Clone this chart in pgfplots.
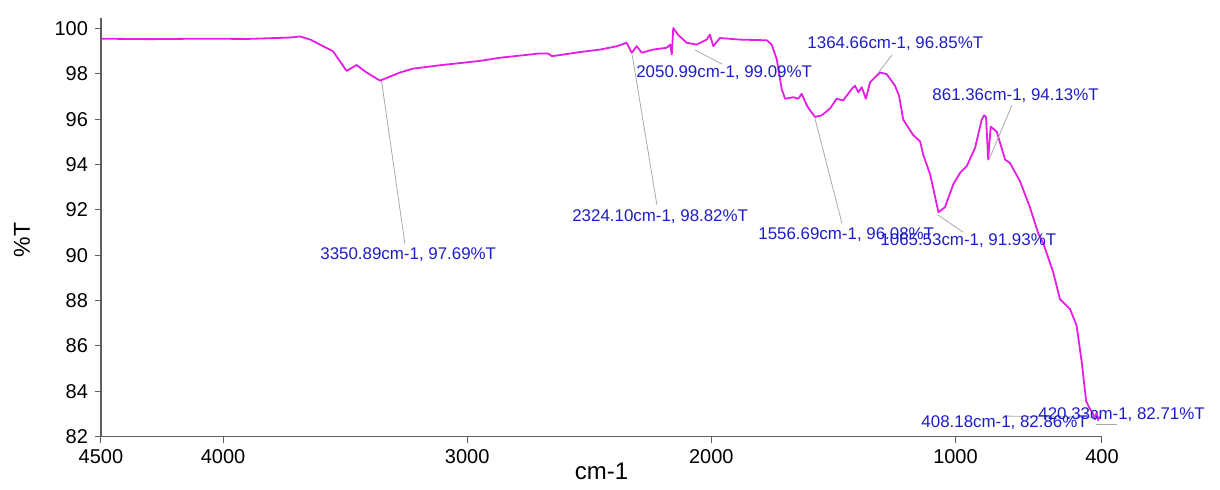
\documentclass[border=0pt]{standalone}
\usepackage{fontspec}
\setmainfont{Liberation Sans}
\usepackage{pgfplots}
\pgfplotsset{compat=1.18}
\definecolor{spec}{RGB}{228,30,228}
\definecolor{annot}{RGB}{30,30,200}
\definecolor{axgray}{RGB}{95,95,95}
\definecolor{lead}{RGB}{170,170,170}
\begin{document}
\begin{tikzpicture}
\path[use as bounding box] (-50.5pt,-26.65pt) rectangle (559.5pt,218.35pt);
\begin{axis}[
  scale only axis, width=500.5pt, height=209.2pt,
  x dir=reverse, xmin=400, xmax=4500, ymin=82, ymax=100.45,
  axis lines=left, axis line style={axgray,-, line width=0.6pt},
  xtick={4500,4000,3000,2000,1000,400}, ytick={82,84,...,100},
  tick align=outside, major tick length=3pt, tick style={axgray, line width=0.5pt},
  ticklabel style={font=\fontsize{10}{12}\selectfont},
  /pgf/number format/assume math mode=true,
  /pgf/number format/1000 sep={},
  xlabel={cm-1}, ylabel={\%T},
  xlabel style={at={(axis description cs:0.5,-0.084)}, anchor=center, font=\fontsize{12}{14}\selectfont},
  ylabel style={at={(axis description cs:-0.079,0.47)}, anchor=center, font=\fontsize{11.5}{14}\selectfont},
  clip=false,
]
\addplot[spec, line width=0.9pt, line join=round] coordinates {
(4500,99.55) (4300,99.53) (4095,99.55) (3900,99.54) (3726,99.60) (3685,99.65) (3640,99.50)
(3603,99.29) (3550,99.00) (3494,98.13) (3453,98.39) (3412,98.06) (3357,97.70)
(3275,98.06) (3222,98.23) (3111,98.38) (2948,98.57) (2866,98.71) (2702,98.90)
(2669,98.90) (2653,98.78) (2632,98.81) (2538,98.96) (2456,99.07) (2386,99.22)
(2347,99.37) (2326,98.93) (2306,99.22) (2285,98.93) (2239,99.07) (2183,99.15)
(2169,99.29) (2162,98.86) (2156,100.02) (2137,99.73) (2101,99.37) (2060,99.29)
(2019,99.51) (2006,99.73) (1992,99.22) (1965,99.58) (1883,99.51) (1773,99.48)
(1753,99.29) (1732,98.64) (1712,97.33) (1698,96.90) (1664,96.97) (1644,96.90)
(1630,97.12) (1609,96.61) (1596,96.39) (1575,96.10) (1548,96.17) (1514,96.47)
(1487,96.90) (1460,96.83) (1425,97.33) (1412,97.48) (1398,97.19) (1384,97.41)
(1367,96.90) (1350,97.63) (1309,98.06) (1282,97.99) (1248,97.48) (1231,97.03)
(1214,95.98) (1200,95.74) (1173,95.30) (1145,95.02) (1132,94.43) (1104,93.57)
(1083,92.55) (1070,91.90) (1043,92.12) (1009,93.13) (981,93.64) (954,93.93)
(920,94.73) (893,95.96) (883,96.17) (875,96.10) (866,94.22) (856,95.67)
(831,95.45) (797,94.22) (777,94.07) (736,93.27) (695,92.11) (661,90.96)
(640,90.52) (599,89.22) (572,88.06) (531,87.63) (504,86.90) (483,85.30)
(465,83.57) (452,83.28) (436,82.99) (429,82.77) (422,83.06) (416,82.73)
(411,82.85) (406,82.86)
};
\begin{scope}[every node/.style={annot, font=\fontsize{8.45}{10}\selectfont, inner sep=0pt, anchor=west}]
\draw[lead, line width=0.4pt] (axis cs:3351,97.69) -- (axis cs:3255,90.50);
\node at (axis cs:3603,90.01) {3350.89cm-1, 97.69\%T};
\draw[lead, line width=0.4pt] (axis cs:2324,98.82) -- (axis cs:2223,92.22);
\node at (axis cs:2571,91.69) {2324.10cm-1, 98.82\%T};
\draw[lead, line width=0.4pt] (axis cs:2067,99.05) -- (axis cs:1956,98.43);
\node at (axis cs:2309,98.04) {2050.99cm-1, 99.09\%T};
\draw[lead, line width=0.4pt] (axis cs:1317,98.04) -- (axis cs:1260,98.83);
\node at (axis cs:1608,99.31) {1364.66cm-1, 96.85\%T};
\draw[lead, line width=0.4pt] (axis cs:863,94.2) -- (axis cs:769,96.62);
\node at (axis cs:1096,97.02) {861.36cm-1, 94.13\%T};
\draw[lead, line width=0.4pt] (axis cs:1576,96.05) -- (axis cs:1465,91.41);
\node at (axis cs:1809,90.89) {1556.69cm-1, 96.08\%T};
\draw[lead, line width=0.4pt] (axis cs:1072,91.78) -- (axis cs:969,91.02);
\node at (axis cs:1309,90.63) {1065.53cm-1, 91.93\%T};
\draw[lead, line width=0.4pt] (axis cs:805,82.91) -- (axis cs:425,82.86);
\node at (axis cs:1141,82.60) {408.18cm-1, 82.86\%T};
\draw[lead, line width=0.4pt] (axis cs:424,82.56) -- (axis cs:338,82.56);
\node at (axis cs:662,82.96) {420.33cm-1, 82.71\%T};
\end{scope}
\end{axis}
\end{tikzpicture}
\end{document}
